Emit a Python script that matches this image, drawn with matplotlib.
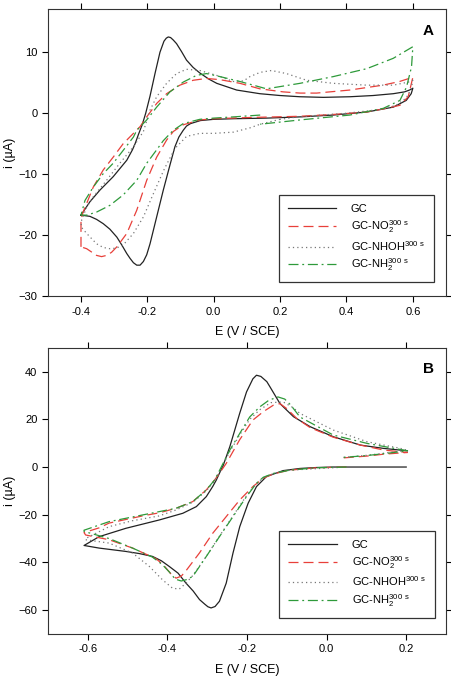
import matplotlib
matplotlib.use('Agg')
import matplotlib.pyplot as plt

plt.rcParams['font.family'] = ['Liberation Sans', 'DejaVu Sans']
plt.rcParams['mathtext.default'] = 'regular'

# ---- panel A: E (V) and i (uA) ----
a_gc_e = [-0.40, -0.373, -0.343, -0.303, -0.262, -0.245, -0.237, -0.227, -0.215, -0.205, -0.192,
          -0.177, -0.162, -0.150, -0.143, -0.137, -0.130, -0.122, -0.112, -0.097, -0.082, -0.062,
          -0.042, -0.015, 0.009, 0.069, 0.139, 0.20, 0.26, 0.33, 0.41, 0.48, 0.541, 0.575, 0.59, 0.60,
          0.595, 0.58, 0.541, 0.461, 0.36, 0.26, 0.16, 0.06, 0.0, -0.04, -0.07, -0.082, -0.092,
          -0.105, -0.117, -0.132, -0.152, -0.172, -0.192, -0.202, -0.212, -0.222, -0.232, -0.242,
          -0.252, -0.262, -0.277, -0.292, -0.313, -0.333, -0.353, -0.373, -0.40]
a_gc_i = [-16.7, -14.5, -12.6, -10.4, -7.7, -6.0, -5.0, -3.5, -1.8, 0.0, 2.8,
          6.5, 10.0, 11.8, 12.3, 12.5, 12.4, 12.0, 11.4, 10.1, 8.7, 7.5,
          6.6, 5.6, 4.9, 3.8, 3.2, 2.9, 2.7, 2.6, 2.7, 2.9, 3.2, 3.5, 3.8, 4.1,
          3.2, 2.1, 1.0, 0.2, -0.3, -0.6, -0.8, -0.9, -1.0, -1.2, -1.7, -2.1, -2.8,
          -3.9, -5.5, -8.5, -12.6, -17.0, -21.4, -23.2, -24.3, -24.9, -24.9, -24.5,
          -23.8, -23.0, -21.6, -20.3, -19.0, -18.1, -17.4, -16.9, -16.7]

a_no2_e = [-0.40, -0.40, -0.395, -0.383, -0.363, -0.333, -0.303, -0.273, -0.242, -0.222, -0.202,
           -0.172, -0.142, -0.102, -0.062, -0.022, 0.019, 0.079, 0.139, 0.209, 0.26, 0.31, 0.41,
           0.51, 0.56, 0.60,
           0.586, 0.561, 0.51, 0.461, 0.36, 0.26, 0.11, 0.0, -0.042, -0.092, -0.122, -0.142,
           -0.172, -0.202, -0.232, -0.262, -0.292, -0.308, -0.323, -0.338, -0.353, -0.383, -0.40]
a_no2_i = [-21.9, -17.5, -16.4, -14.8, -12.1, -9.3, -7.2, -5.0, -3.3, -2.2, -0.6,
           1.6, 3.2, 4.6, 5.4, 5.7, 5.5, 4.9, 4.0, 3.5, 3.3, 3.3, 3.8,
           4.6, 5.2, 5.9,
           2.7, 1.3, 0.7, 0.2, -0.2, -0.5, -0.7, -0.9, -1.1, -1.9, -3.0, -4.4,
           -7.2, -11.0, -15.9, -19.7, -21.9, -22.8, -23.3, -23.5, -23.3, -22.2, -21.9]

a_nhoh_e = [0.20, 0.14, 0.109, 0.059, 0.0, -0.042, -0.082, -0.112, -0.122, -0.142, -0.152, -0.182,
            -0.212, -0.242, -0.273, -0.293, -0.313, -0.333, -0.353, -0.383, -0.40,
            -0.398, -0.383, -0.363, -0.323, -0.283, -0.242, -0.212, -0.192, -0.172, -0.142, -0.112,
            -0.082, -0.042, 0.009, 0.059, 0.09, 0.109, 0.14, 0.174, 0.219, 0.28, 0.36, 0.461, 0.541,
            0.586, 0.60,
            0.595, 0.58, 0.55, 0.50, 0.40, 0.30, 0.24, 0.20]
a_nhoh_i = [-1.0, -1.8, -2.4, -3.1, -3.3, -3.3, -3.8, -5.5, -6.3, -8.4, -9.5, -13.2,
            -17.0, -19.7, -21.6, -22.1, -22.2, -22.0, -21.4, -19.7, -18.6,
            -17.5, -15.4, -13.7, -11.0, -8.2, -5.5, -3.0, 0.5, 2.7, 4.9, 6.5,
            7.2, 7.0, 6.2, 5.2, 5.3, 6.0, 6.7, 7.0, 6.5, 5.4, 4.9, 4.6, 4.6,
            5.1, 5.4,
            4.0, 2.5, 1.3, 0.6, 0.0, -0.4, -0.7, -1.0]

a_nh2_e = [0.14, 0.06, 0.0, -0.042, -0.092, -0.122, -0.152, -0.172, -0.202, -0.232, -0.273, -0.313,
           -0.353, -0.383, -0.40,
           -0.388, -0.363, -0.333, -0.303, -0.273, -0.242, -0.232, -0.202, -0.172, -0.132, -0.092,
           -0.052, -0.022, 0.019, 0.079, 0.139, 0.159, 0.26, 0.36, 0.461, 0.541, 0.60,
           0.596, 0.581, 0.561, 0.511, 0.41, 0.26, 0.14]
a_nh2_i = [-0.3, -0.6, -0.8, -1.0, -1.7, -2.8, -4.5, -6.0, -8.2, -11.0, -13.4, -15.1,
           -16.2, -16.7, -16.7,
           -14.3, -12.1, -9.9, -8.2, -6.1, -3.9, -2.8, -1.1, 1.0, 3.5, 5.1,
           6.2, 6.5, 6.0, 5.2, 4.3, 4.0, 4.9, 6.0, 7.3, 9.0, 10.9,
           7.6, 4.3, 2.1, 0.8, -0.3, -1.1, -1.8]

# ---- panel B ----
b_gc_e = [0.20, 0.10, 0.017, -0.025, -0.067, -0.109, -0.151, -0.176, -0.197, -0.218, -0.235, -0.252,
          -0.269, -0.28, -0.29, -0.298, -0.306, -0.319, -0.335, -0.353, -0.373, -0.395, -0.415,
          -0.437, -0.47, -0.504, -0.571, -0.609,
          -0.571, -0.504, -0.42, -0.361, -0.327, -0.302, -0.286, -0.277, -0.269, -0.26, -0.243,
          -0.235, -0.218, -0.201, -0.185, -0.176, -0.165, -0.15, -0.142, -0.117, -0.083, -0.041,
          0.017, 0.085, 0.144, 0.203]
b_gc_i = [0.0, 0.0, 0.0, -0.2, -0.6, -1.5, -4.0, -8.2, -15.2, -25.0, -36.1, -48.7,
          -56.3, -58.5, -59.1, -58.6, -57.5, -55.6, -52.0, -48.7, -44.5, -41.7, -39.3,
          -37.5, -36.3, -35.4, -34.0, -32.9,
          -29.2, -25.7, -22.2, -19.4, -16.6, -12.4, -8.2, -5.5, -2.6, 0.5, 8.5,
          13.0, 22.6, 31.5, 37.0, 38.5, 38.0, 35.8, 33.6, 26.6, 21.1, 16.9,
          12.7, 9.2, 7.8, 6.8]

b_no2_e = [0.05, -0.025, -0.092, -0.134, -0.159, -0.185, -0.218, -0.252, -0.286, -0.319, -0.353,
           -0.365, -0.378, -0.39, -0.41, -0.428, -0.487, -0.546, -0.605,
           -0.609, -0.571, -0.546, -0.504, -0.462, -0.42, -0.378, -0.336, -0.302, -0.281, -0.269,
           -0.252, -0.218, -0.185, -0.159, -0.134, -0.117, -0.10, -0.075, -0.041, 0.017, 0.085,
           0.144, 0.203, 0.144, 0.102, 0.04]
b_no2_i = [0.0, -0.3, -1.3, -2.9, -4.7, -8.2, -13.8, -20.8, -27.8, -36.0, -43.5,
           -45.8, -46.6, -45.0, -41.0, -38.5, -34.0, -30.5, -28.5,
           -27.5, -25.5, -23.5, -22.0, -20.5, -19.2, -17.3, -14.5, -9.6, -5.4, -2.6,
           1.5, 11.5, 19.7, 23.2, 25.9, 26.6, 24.5, 20.4, 16.5, 12.5, 9.2,
           7.1, 6.1, 5.4, 4.6, 3.8]

b_nhoh_e = [0.05, -0.092, -0.134, -0.159, -0.18, -0.201, -0.235, -0.269, -0.302, -0.336, -0.353,
            -0.37, -0.387, -0.412, -0.445, -0.487, -0.546, -0.605,
            -0.605, -0.546, -0.487, -0.42, -0.378, -0.336, -0.302, -0.281, -0.269, -0.243, -0.218,
            -0.193, -0.168, -0.14, -0.109, -0.085, -0.067, 0.017, 0.102, 0.186, 0.203,
            0.144, 0.10, 0.04]
b_nhoh_i = [0.0, -1.3, -2.8, -4.5, -7.5, -12.0, -20.5, -29.0, -37.5, -45.5, -48.7,
            -51.2, -50.8, -47.3, -41.7, -36.1, -31.9, -30.5,
            -30.0, -25.0, -22.5, -20.5, -18.0, -14.8, -10.0, -5.8, -2.0, 6.5, 13.5,
            20.0, 24.0, 27.0, 27.3, 25.0, 22.5, 15.5, 10.6, 7.8, 7.0,
            5.8, 4.9, 4.0]

b_nh2_e = [0.05, -0.025, -0.092, -0.134, -0.159, -0.176, -0.201, -0.235, -0.269, -0.302, -0.336,
           -0.353, -0.365, -0.38, -0.395, -0.412, -0.437, -0.487, -0.546, -0.609,
           -0.609, -0.546, -0.462, -0.378, -0.336, -0.302, -0.281, -0.269, -0.243, -0.218, -0.193,
           -0.168, -0.145, -0.122, -0.105, -0.09, -0.067, 0.017, 0.102, 0.203,
           0.144, 0.10, 0.04]
b_nh2_i = [0.0, -0.3, -1.3, -2.7, -4.3, -6.8, -12.4, -20.8, -29.2, -37.5, -45.9,
           -47.3, -47.8, -47.0, -44.0, -41.0, -37.8, -34.0, -30.0, -27.0,
           -26.5, -22.9, -20.1, -17.3, -14.5, -9.6, -5.4, -1.5, 7.1, 14.1, 21.0,
           25.2, 28.0, 29.4, 28.5, 26.0, 21.0, 13.4, 9.9, 6.8,
           5.6, 4.8, 4.0]

labels = ['GC', 'GC-NO$_2^{300\\ s}$', 'GC-NHOH$^{300\\ s}$', 'GC-NH$_2^{300\\ s}$']
styles = [dict(color='#222222', lw=0.9, linestyle='-'),
          dict(color='#e8403a', lw=0.9, dashes=(8, 4)),
          dict(color='#777777', lw=0.9, dashes=(1, 2.5)),
          dict(color='#2e9a3a', lw=0.9, dashes=(8, 3, 1.5, 3))]


def draw_panel(ax, curves, letter, xlim, ylim, xticks, yticks, leg_anchor):
    for (e, i), lab, st in zip(curves, labels, styles):
        ax.plot(e, i, label=lab, **st)
    ax.set_xlim(xlim)
    ax.set_ylim(ylim)
    ax.set_xticks(xticks)
    ax.set_yticks(yticks)
    ax.set_xticklabels(['%.1f' % t for t in xticks])
    ax.tick_params(direction='out', length=4, width=0.8, labelsize=8,
                   top=True, right=True, labeltop=False, labelright=False)
    for s in ax.spines.values():
        s.set_linewidth(0.8)
        s.set_color('#333333')
    ax.set_xlabel('E (V / SCE)', fontsize=9, labelpad=7)
    ax.set_ylabel('i (µA)', fontsize=9)
    ax.yaxis.set_label_coords(-0.08, 0.5)
    ax.text(0.955, 0.925, letter, transform=ax.transAxes, fontsize=11,
            fontweight='bold', ha='center', va='center')
    leg = ax.legend(loc='lower right', bbox_to_anchor=leg_anchor, borderaxespad=0,
                    fontsize=8, fancybox=False, framealpha=1, edgecolor='#333333',
                    handlelength=4.4, handletextpad=1.3, labelspacing=0.35,
                    borderpad=0.8)
    leg.get_frame().set_linewidth(0.9)


fig = plt.figure(figsize=(4.51, 6.78), dpi=100)
ax_a = fig.add_axes([0.106, 0.563, 0.883, 0.423])
ax_b = fig.add_axes([0.106, 0.065, 0.883, 0.422])

draw_panel(ax_a, [(a_gc_e, a_gc_i), (a_no2_e, a_no2_i), (a_nhoh_e, a_nhoh_i), (a_nh2_e, a_nh2_i)],
           'A', (-0.5, 0.7), (-30, 17), [-0.4, -0.2, 0.0, 0.2, 0.4, 0.6], [-30, -20, -10, 0, 10],
           (0.97, 0.049))
draw_panel(ax_b, [(b_gc_e, b_gc_i), (b_no2_e, b_no2_i), (b_nhoh_e, b_nhoh_i), (b_nh2_e, b_nh2_i)],
           'B', (-0.7, 0.3), (-70, 50), [-0.6, -0.4, -0.2, 0.0, 0.2], [-60, -40, -20, 0, 20, 40],
           (0.972, 0.056))

fig.savefig('out.png', dpi=100)
